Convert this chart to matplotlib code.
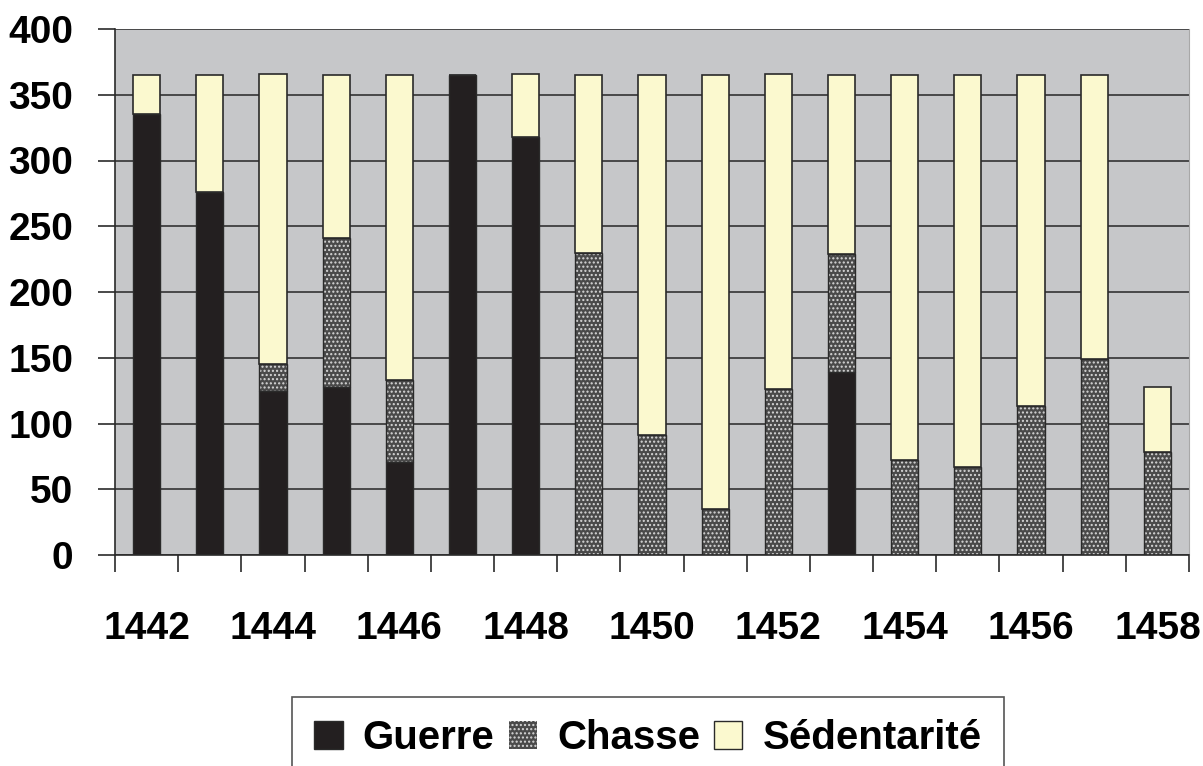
import matplotlib

matplotlib.use("Agg")
import matplotlib.pyplot as plt
import numpy as np
from matplotlib.patches import Patch

years = list(range(1442, 1459))
guerre = [335, 276, 125, 128, 71, 365, 318, 0, 0, 0, 0, 139, 0, 0, 0, 0, 0]
chasse = [0, 0, 20, 113, 62, 0, 0, 230, 91, 35, 126, 90, 72, 67, 113, 149, 78]
sedentarite = [30, 89, 221, 124, 232, 0, 48, 135, 274, 330, 240, 136, 293, 298, 252, 216, 50]
labels = ["Guerre", "Chasse", "Sédentarité"]

plt.rcParams["font.family"] = ["Liberation Sans", "DejaVu Sans"]
plt.rcParams["font.weight"] = "bold"
plt.rcParams["hatch.linewidth"] = 1.0

BLACK = "#231f20"
GREY_BG = "#c6c7c9"
YELLOW = "#fbf9cf"
EDGE = "#2a2a2a"
FS = 28

fig = plt.figure(figsize=(12.03, 7.66), dpi=100)
ax = fig.add_axes([115 / 1203, 1 - 555 / 766, (1189 - 115) / 1203, (555 - 29) / 766])
ax.set_facecolor(GREY_BG)
ax.set_axisbelow(True)

x = np.arange(len(years))
w = 0.43
g = np.array(guerre)
c = np.array(chasse)
s = np.array(sedentarite)

ax.bar(x, g, w, color=BLACK, edgecolor=EDGE, linewidth=1)
# chasse: dotted grey fill, then a dark outline on top
ax.bar(x, c, w, bottom=g, color="#4a4a4a", edgecolor="#d8d8d8", hatch="....", linewidth=0)
ax.bar(x, c, w, bottom=g, fill=False, edgecolor=EDGE, linewidth=1)
ax.bar(x, s, w, bottom=g + c, color=YELLOW, edgecolor=EDGE, linewidth=1.2)

ax.set_xlim(-0.5, len(years) - 0.5)
ax.set_ylim(0, 400)
ax.set_yticks(range(0, 401, 50))
ax.grid(True, axis="y", color="#333333", linewidth=1.2)

ax.set_xticks(np.arange(-0.5, len(years), 1))
ax.set_xticklabels([])
ax.set_xticks(x[::2], minor=True)
ax.set_xticklabels([str(y) for y in years[::2]], minor=True)
ax.tick_params(axis="x", which="major", length=12, width=1.2, color=EDGE)
ax.tick_params(axis="x", which="minor", length=0, pad=40, labelsize=FS)
ax.tick_params(axis="y", length=12, width=1.2, color=EDGE, pad=18, labelsize=FS)

ax.spines["top"].set_visible(False)
ax.spines["right"].set_color("#a8a8a8")
ax.spines["left"].set_color(EDGE)
ax.spines["bottom"].set_color(EDGE)
ax.spines["left"].set_linewidth(1.2)
ax.spines["bottom"].set_linewidth(1.2)

handles = [
    Patch(facecolor=BLACK, edgecolor=EDGE),
    Patch(facecolor="#4a4a4a", edgecolor="#d8d8d8", hatch="....", linewidth=0),
    Patch(facecolor=YELLOW, edgecolor=EDGE),
]
leg = fig.legend(
    handles, labels, loc="upper center", bbox_to_anchor=(648 / 1203, 1 - 697 / 766),
    ncol=3, fontsize=FS + 1, frameon=True, fancybox=False, handlelength=0.7, handleheight=0.7,
    handletextpad=0.5, columnspacing=0.35, borderpad=0.55, borderaxespad=0,
)
leg.get_frame().set_edgecolor(EDGE)
leg.get_frame().set_linewidth(1.2)

fig.savefig("out.png", dpi=100)
